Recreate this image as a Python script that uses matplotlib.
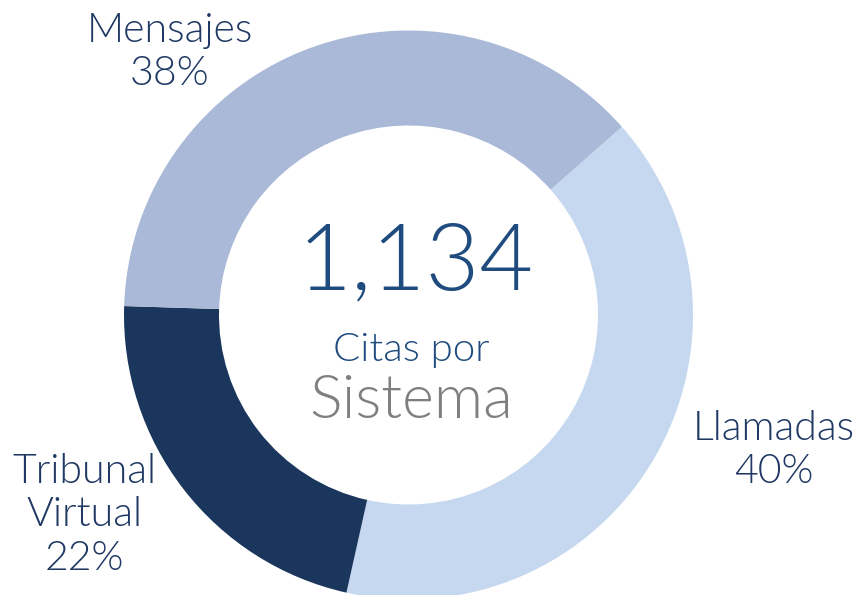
import matplotlib.pyplot as plt

categorias = ["Llamadas", "Tribunal\nVirtual", "Mensajes"]
porcentajes = [40, 22, 38]
colores = ["#C5D8EF", "#1B365D", "#AAB9D7"]
total = "1,134"

plt.rcParams['font.family'] = ['Lato', 'DejaVu Sans']
plt.rcParams['font.weight'] = 300

fig = plt.figure(figsize=(8.62, 5.95), dpi=100)
ax = fig.add_axes([0, 0, 1, 1])

ax.pie(porcentajes, colors=colores, startangle=41.4, counterclock=False,
       center=(408.5, 280), radius=284.5,
       wedgeprops=dict(width=95, linewidth=0))

# pie() cambia los limites, asi que se fijan despues
ax.set_xlim(0, 862)
ax.set_ylim(0, 595)
ax.set_aspect('equal')
ax.axis('off')

txt = "#1F3864"
# etiquetas de las categorias
pos = [(774, 145), (84, 80), (170, 543)]
for cat, p, (x, y) in zip(categorias, porcentajes, pos):
    ax.text(x, y, f"{cat}\n{p}%", ha='center', va='center', fontsize=29.5,
            color=txt, linespacing=1.22)

ax.text(416, 331, total, ha='center', va='center', fontsize=67, color="#1F4B7E")
ax.text(411, 245, "Citas por", ha='center', va='center', fontsize=29, color="#1F4B7E")
ax.text(411, 194, "Sistema", ha='center', va='center', fontsize=44, color="#7F7F7F")

plt.savefig("out.png", dpi=100)
